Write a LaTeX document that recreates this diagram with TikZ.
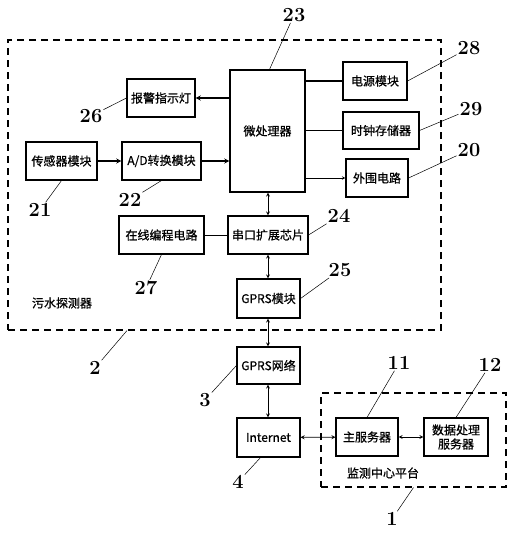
\documentclass[tikz,border=0pt]{standalone}
\usepackage{fontspec}
\newfontfamily\cjk[FakeBold=0.8]{Noto Sans CJK SC}
\usepackage{tikz}
\usetikzlibrary{arrows,calc}
\tikzset{
  blk/.style={draw,line width=1.1pt,inner sep=1pt,font=\cjk\fontsize{12}{14}\selectfont,align=center},
  num/.style={font=\fontsize{20}{20}\selectfont\bfseries,inner sep=1pt},
  lead/.style={line width=0.5pt},
  zone/.style={draw,dashed,line width=1.1pt,dash pattern=on 7pt off 5pt,inner sep=0pt}
}
\begin{document}
\begin{tikzpicture}[x=1pt,y=-1pt]
\useasboundingbox (0,0) rectangle (516,542);
% outer zones
\node[zone,minimum width=433,minimum height=290] (det) at (224.5,185) {};
\node[zone,minimum width=185,minimum height=94] (ctr) at (413.5,440) {};
\node[font=\cjk\fontsize{12}{14}\selectfont] (detname) at (62,303) {污水探测器};
\node[font=\cjk\fontsize{12}{14}\selectfont] (ctrname) at (383,473) {监测中心平台};
% blocks
\node[blk,minimum width=75,minimum height=122] (micro) at (267.5,131) {微处理器};
\node[blk,minimum width=68,minimum height=38] (alarm) at (161,98) {报警指示灯};
\node[blk,minimum width=71,minimum height=38] (sensor) at (61.5,161) {传感器模块};
\node[blk,minimum width=79,minimum height=38] (ad) at (161.5,161) {A/D转换模块};
\node[blk,minimum width=85,minimum height=38] (prog) at (161.5,235) {在线编程电路};
\node[blk,minimum width=80,minimum height=38] (serial) at (268,235) {串口扩展芯片};
\node[blk,minimum width=64,minimum height=38] (power) at (375,81) {电源模块};
\node[blk,minimum width=76,minimum height=37] (clock) at (381,130.5) {时钟存储器};
\node[blk,minimum width=62,minimum height=38] (peri) at (377,178) {外围电路};
\node[blk,minimum width=63,minimum height=39] (gprsm) at (268.5,298.5) {GPRS模块};
\node[blk,minimum width=63,minimum height=37] (gprsn) at (268.5,365.5) {GPRS网络};
\node[blk,minimum width=63,minimum height=39] (inet) at (268.5,437.5) {Internet};
\node[blk,minimum width=62,minimum height=38] (mainsrv) at (367,437) {主服务器};
\node[blk,minimum width=64,minimum height=38] (datasrv) at (456,437) {数据处理\\服务器};
% connections
\draw[line width=1.3pt,-stealth] (micro.west |- alarm) -- (alarm.east);
\draw[line width=1.3pt,-stealth] (sensor) -- (ad);
\draw[line width=1.3pt,-stealth] (ad) -- (micro.west |- ad);
\draw[line width=1.3pt] (micro.east |- power) -- (power.west);
\draw[line width=1.3pt] (micro.east |- clock) -- (clock.west);
\draw[line width=0.6pt,-stealth] (micro.east |- peri) -- (peri.west);
\draw[line width=0.8pt,stealth-stealth] (serial.north |- micro.south) -- (serial.north);
\draw[line width=0.8pt] (prog) -- (serial);
\draw[line width=0.8pt,stealth-stealth] (serial.south) -- (serial.south |- gprsm.north);
\draw[line width=0.8pt,stealth-stealth] (serial.south |- gprsm.south) -- (serial.south |- gprsn.north);
\draw[line width=0.8pt,stealth-stealth] (serial.south |- gprsn.south) -- (serial.south |- inet.north);
\draw[line width=0.8pt,stealth-stealth] (inet) -- (mainsrv);
\draw[line width=0.8pt,stealth-stealth] (mainsrv) -- (datasrv);
% reference numbers
\node[num] (n23) at (294,15) {23};
\node[num] (n28) at (469,48) {28};
\node[num] (n29) at (471,109) {29};
\node[num] (n20) at (469,150) {20};
\node[num] (n24) at (339,216) {24};
\node[num] (n25) at (340,270) {25};
\node[num] (n26) at (91,116) {26};
\node[num] (n21) at (40,210) {21};
\node[num] (n22) at (130,200) {22};
\node[num] (n27) at (146,288) {27};
\node[num] (n2) at (95,368) {2};
\node[num] (n3) at (205,400) {3};
\node[num] (n4) at (238,482) {4};
\node[num] (n11) at (399,363) {11};
\node[num] (n12) at (490,365) {12};
\node[num] (n1) at (392,519) {1};
\draw[lead] (n23) -- ([xshift=2]micro.north);
\draw[lead] (n28) -- (power.east);
\draw[lead] (n29) -- (clock.east);
\draw[lead] (n20) -- (peri.east);
\draw[lead] (n24) -- (serial.east);
\draw[lead] (n25) -- (gprsm.east);
\draw[lead] (n26) -- (alarm.west);
\draw[lead] (n21) -- (sensor.south);
\draw[lead] (n22) -- (ad.south);
\draw[lead] (n27) -- (prog.south);
\draw[lead] (n2) -- ([xshift=-97.5]det.south);
\draw[lead] (n3) -- (gprsn.west);
\draw[lead] (n4) -- ([xshift=-8]inet.south);
\draw[lead] (n11) -- (mainsrv.north);
\draw[lead] (n12) -- (datasrv.north);
\draw[lead] (n1) -- (ctr.south);
\end{tikzpicture}
\end{document}
